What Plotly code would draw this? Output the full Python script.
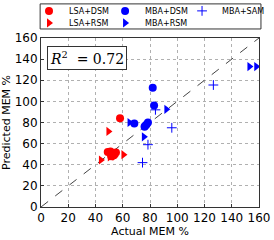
import plotly.graph_objects as go

lsa_dsm_x = [58, 49, 51, 52.5, 55, 53.5, 51.5]
lsa_dsm_y = [84, 52, 52.5, 51, 51.5, 49, 48]
lsa_rsm_x = [49.5, 44, 60.5, 54, 50.5]
lsa_rsm_y = [71.5, 44.5, 49.5, 48, 47.5]
mba_dsm_x = [82, 83, 68.5, 76.5, 77.5, 78.5, 76]
mba_dsm_y = [113, 96, 79, 77, 78, 80, 76]
mba_rsm_x = [65, 92, 75.5, 153, 158]
mba_rsm_y = [80, 92.5, 66.5, 133, 133]
mba_sam_x = [84, 96, 126.5, 78.5, 74.5]
mba_sam_y = [92, 75, 115.5, 59, 42]
diag = [0, 160]
tick_vals = [0, 20, 40, 60, 80, 100, 120, 140, 160]

fig = go.Figure()
fig.add_trace(go.Scatter(x=diag, y=diag, mode="lines", showlegend=False,
                         line=dict(color="#444444", width=1, dash="dash")))
fig.add_trace(go.Scatter(x=lsa_dsm_x, y=lsa_dsm_y, mode="markers", name="LSA+DSM",
                         legend="legend",
                         marker=dict(symbol="circle", color="red", size=8)))
fig.add_trace(go.Scatter(x=mba_dsm_x, y=mba_dsm_y, mode="markers", name="MBA+DSM",
                         legend="legend2",
                         marker=dict(symbol="circle", color="blue", size=8)))
fig.add_trace(go.Scatter(x=mba_sam_x, y=mba_sam_y, mode="markers", name="MBA+SAM",
                         legend="legend3",
                         marker=dict(symbol="cross-thin", color="blue", size=7,
                                     line=dict(color="blue", width=1))))
fig.add_trace(go.Scatter(x=lsa_rsm_x, y=lsa_rsm_y, mode="markers", name="LSA+RSM",
                         legend="legend4",
                         marker=dict(symbol="triangle-right", color="red", size=8)))
fig.add_trace(go.Scatter(x=mba_rsm_x, y=mba_rsm_y, mode="markers", name="MBA+RSM",
                         legend="legend5",
                         marker=dict(symbol="triangle-right", color="blue", size=8)))

axis_common = dict(range=[0, 160], tickvals=tick_vals, showgrid=True,
                   gridcolor="#b0b0b0", griddash="dot", gridwidth=1,
                   showline=True, linecolor="#333333", linewidth=1, mirror=True,
                   ticks="inside", ticklen=3, tickcolor="#333333",
                   zeroline=False, tickfont=dict(size=12, color="black"),
                   title_font=dict(size=11, color="black"))

fig.update_xaxes(**axis_common, title_text="Actual MEM %", title_standoff=2)
fig.update_yaxes(**axis_common, title_text="Predicted MEM %", title_standoff=2)

fig.add_annotation(x=0.027, y=0.95, xref="paper", yref="paper", xanchor="left", yanchor="top",
                   text="<i>R</i><sup>2</sup>  = 0.72", showarrow=False,
                   font=dict(family="DejaVu Serif", size=14, color="black"),
                   bordercolor="#333333", borderwidth=1, borderpad=2, bgcolor="white")

# legend frame
fig.add_shape(type="rect", xref="paper", yref="paper",
              x0=-0.004, x1=1.009, y0=1 + 9 / 168.5, y1=1 + 34 / 168.5,
              line=dict(color="#333333", width=1), fillcolor="rgba(0,0,0,0)")

leg_common = dict(orientation="h", xanchor="left", yanchor="top",
                  borderwidth=0, bgcolor="rgba(0,0,0,0)",
                  font=dict(size=8, family="DejaVu Sans", color="black"),
                  itemwidth=30, tracegroupgap=0)

row1 = 1 + 41.5 / 168.5
row2 = 1 + 29.5 / 168.5
col1, col2, col3 = -0.055, 0.294, 0.647

fig.update_layout(
    width=274, height=240,
    margin=dict(l=41, r=15, t=38, b=33, autoexpand=False),
    plot_bgcolor="white", paper_bgcolor="white",
    font=dict(family="DejaVu Sans", color="black"),
    legend=dict(**leg_common, x=col1, y=row1),
    legend2=dict(**leg_common, x=col2, y=row1),
    legend3=dict(**leg_common, x=col3, y=row1),
    legend4=dict(**leg_common, x=col1, y=row2),
    legend5=dict(**leg_common, x=col2, y=row2),
)

fig.write_html("out.html", config={"displayModeBar": False},
               post_script="document.body.style.margin='0';")
